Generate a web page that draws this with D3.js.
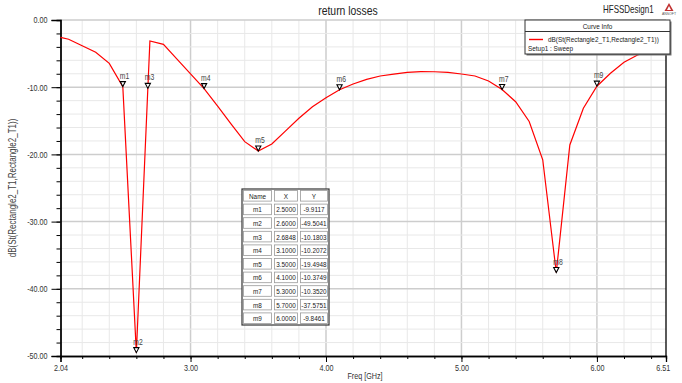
<!DOCTYPE html>
<html>
<head>
<meta charset="utf-8">
<script src="https://cdn.jsdelivr.net/npm/d3@7"></script>
<style>
    body { margin: 0; background: #fff; }
    text { font-family: "Liberation Sans", Arial, sans-serif; }
</style>
</head>
<body>
<div id="chart"></div>
<script>
// Data
//-------------------------------------------------------
var freqs = [2.04, 2.1, 2.2, 2.3, 2.4, 2.5, 2.6, 2.7, 2.8, 2.9, 3.0, 3.1, 3.2, 3.3, 3.4, 3.5,
    3.6, 3.7, 3.8, 3.9, 4.0, 4.1, 4.2, 4.3, 4.4, 4.5, 4.6, 4.7, 4.8, 4.9, 5.0, 5.1, 5.2,
    5.3, 5.4, 5.5, 5.6, 5.7, 5.8, 5.9, 6.0, 6.1, 6.2, 6.3, 6.4, 6.5, 6.51];
var s11 = [-2.58, -2.87, -3.84, -4.81, -6.45, -9.91, -49.50, -3.13, -3.62, -5.82, -8.01, -10.21, -12.8, -15.5, -18.1, -19.49,
    -18.45, -16.54, -14.63, -12.9, -11.56, -10.37, -9.52, -8.83, -8.33, -8.05, -7.78, -7.69, -7.70, -7.78, -8.04, -8.33, -9.08,
    -10.35, -12.16, -15.1, -20.8, -37.58, -18.6, -13.14, -9.85, -7.93, -6.3, -5.2, -4.6, -4.1, -4.05];

var markerNames = ["m1", "m2", "m3", "m4", "m5", "m6", "m7", "m8", "m9"];
var markerX = ["2.5000", "2.6000", "2.6848", "3.1000", "3.5000", "4.1000", "5.3000", "5.7000", "6.0000"];
var markerY = ["-9.9117", "-49.5041", "-10.1803", "-10.2072", "-19.4948", "-10.3749", "-10.3520", "-37.5751", "-9.8461"];

var xTickLabels = ["2.04", "3.00", "4.00", "5.00", "6.00", "6.51"];
var yTickLabels = ["0.00", "-10.00", "-20.00", "-30.00", "-40.00", "-50.00"];

// Set up SVG and Chart group
//-------------------------------------------------------
var svgWidth = 682;
var svgHeight = 383;

var margin = { top: 20, right: 16, bottom: 27, left: 60.5 };
var chartWidth = svgWidth - margin.left - margin.right;
var chartHeight = svgHeight - margin.top - margin.bottom;

var svg = d3.select("#chart")
    .append("svg")
    .attr("width", svgWidth)
    .attr("height", svgHeight);

var chartGroup = svg.append("g")
    .attr("transform", `translate(${margin.left}, ${margin.top})`);

var xScale = d3.scaleLinear().domain([2.04, 6.51]).range([0, chartWidth]);
var yScale = d3.scaleLinear().domain([-50, 0]).range([chartHeight, 0]);

// squeeze text horizontally (the original uses a narrow font)
var squeeze = 0.8;
function narrow(sel) {
    sel.each(function() {
        var t = d3.select(this);
        var x = +(t.attr("x") || 0);
        t.attr("x", x / squeeze).attr("transform", (t.attr("transform") || "") + ` scale(${squeeze},1)`);
    });
}

// Grid
//-------------------------------------------------------
var xMinor = d3.range(2.2, 6.5, 0.2);
var yMinor = d3.range(-48, 0, 2);

chartGroup.selectAll(".vgrid").data(xMinor).enter()
    .append("line")
    .attr("x1", d => xScale(d)).attr("x2", d => xScale(d))
    .attr("y1", 0).attr("y2", chartHeight)
    .attr("stroke", d => Math.abs(d - Math.round(d)) < 0.01 ? "#cdcdcd" : "#e8e8e8")
    .attr("stroke-width", d => Math.abs(d - Math.round(d)) < 0.01 ? 1.5 : 1);

chartGroup.selectAll(".hgrid").data(yMinor.concat([0])).enter()
    .append("line")
    .attr("x1", 0).attr("x2", chartWidth)
    .attr("y1", d => yScale(d)).attr("y2", d => yScale(d))
    .attr("stroke", d => d % 10 === 0 ? "#cdcdcd" : "#e8e8e8")
    .attr("stroke-width", d => d % 10 === 0 ? 1.5 : 1);

// Axes
//-------------------------------------------------------
var xMajor = xTickLabels.map(d => +d);
var bottomAxis = d3.axisBottom(xScale).tickValues(xMajor).tickFormat((d, i) => xTickLabels[i]).tickSize(6).tickPadding(3);
var bottomMinor = d3.axisBottom(xScale).tickValues(xMinor).tickFormat("").tickSize(3);
var yMajor = yTickLabels.map(d => +d);
var leftAxis = d3.axisLeft(yScale).tickValues(yMajor).tickFormat((d, i) => yTickLabels[i]).tickSize(9).tickPadding(4);
var leftMinor = d3.axisLeft(yScale).tickValues(yMinor).tickFormat("").tickSize(4);

function styleAxis(g) {
    g.select(".domain").attr("stroke", "#000").attr("stroke-width", 1.3);
    g.selectAll(".tick line").attr("stroke", "#000");
    g.selectAll(".tick text").attr("fill", "#333").attr("font-size", "9px")
        .attr("font-family", "'Liberation Sans', Arial, sans-serif")
        .call(narrow);
}

chartGroup.append("g").attr("transform", `translate(0, ${chartHeight})`).call(bottomMinor).call(styleAxis);
var xAxis = chartGroup.append("g").attr("transform", `translate(0, ${chartHeight})`).call(bottomAxis).call(styleAxis);
chartGroup.append("g").call(leftMinor).call(styleAxis);
chartGroup.append("g").call(leftAxis).call(styleAxis);

// last x label sits just left of the corner
xAxis.selectAll(".tick text").filter((d, i) => i === xTickLabels.length - 1).attr("dx", "-4");

// right border
chartGroup.append("line")
    .attr("x1", chartWidth).attr("x2", chartWidth)
    .attr("y1", 0).attr("y2", chartHeight)
    .attr("stroke", "#000").attr("stroke-width", 1.3);

// Curve
//-------------------------------------------------------
var curveData = freqs.map((f, i) => ({ f: f, v: s11[i] }));
var line = d3.line().x(d => xScale(d.f)).y(d => yScale(d.v));

chartGroup.append("path")
    .datum(curveData)
    .attr("d", line)
    .attr("fill", "none")
    .attr("stroke", "#ff0000")
    .attr("stroke-width", 1.2);

// Markers
//-------------------------------------------------------
var markers = markerNames.map((n, i) => ({ name: n, x: +markerX[i], y: +markerY[i] }));

var markerGroup = chartGroup.selectAll(".marker").data(markers).enter()
    .append("g")
    .attr("transform", d => `translate(${xScale(d.x)}, ${yScale(d.y)})`);

markerGroup.append("path")
    .attr("d", "M-2.6,-5 L2.6,-5 L0,0 Z")
    .attr("fill", "#fff")
    .attr("stroke", "#000")
    .attr("stroke-width", 1.1);

markerGroup.append("text")
    .attr("x", -3).attr("y", -8)
    .attr("font-size", "8.5px")
    .attr("fill", "#444")
    .text(d => d.name)
    .call(narrow);

// Title + header
//-------------------------------------------------------
svg.append("text").attr("x", 348).attr("y", 15).attr("text-anchor", "middle")
    .attr("font-size", "13px").attr("fill", "#222").text("return losses").call(narrow);

svg.append("text").attr("x", 603).attr("y", 13)
    .attr("font-size", "10px").attr("fill", "#222").text("HFSSDesign1").call(narrow);

// small logo
var logo = svg.append("g").attr("transform", "translate(669, 3)");
logo.append("path").attr("d", "M0,0 L4.5,8 L-4.5,8 Z").attr("fill", "#c03030");
logo.append("path").attr("d", "M0,3 L2,7 L-2,7 Z").attr("fill", "#fff");
logo.append("text").attr("y", 12).attr("text-anchor", "middle").attr("font-size", "3.5px")
    .attr("fill", "#555").text("ANSOFT");

// Axis titles
svg.append("text").attr("x", 365).attr("y", 379).attr("text-anchor", "middle")
    .attr("font-size", "9px").attr("fill", "#333").text("Freq [GHz]").call(narrow);

svg.append("text")
    .attr("transform", "translate(16, 188) rotate(-90)")
    .attr("text-anchor", "middle")
    .attr("font-size", "10px").attr("fill", "#444")
    .text("dB(St(Rectangle2_T1,Rectangle2_T1))")
    .call(narrow);

// Legend (Curve Info)
//-------------------------------------------------------
var legend = svg.append("g").attr("transform", "translate(525, 20)");
legend.append("rect").attr("x", 1.5).attr("y", 1.5).attr("width", 145).attr("height", 34).attr("fill", "#777");
legend.append("rect").attr("width", 145).attr("height", 34).attr("fill", "#fff").attr("stroke", "#333").attr("stroke-width", 1);
legend.append("line").attr("x1", 0).attr("x2", 145).attr("y1", 11.5).attr("y2", 11.5).attr("stroke", "#333");
legend.append("text").attr("x", 72.5).attr("y", 9).attr("text-anchor", "middle")
    .attr("font-size", "8px").attr("fill", "#222").text("Curve Info").call(narrow);
legend.append("line").attr("x1", 4).attr("x2", 18).attr("y1", 19.5).attr("y2", 19.5)
    .attr("stroke", "#ff0000").attr("stroke-width", 1.4);
legend.append("text").attr("x", 23).attr("y", 22.5)
    .attr("font-size", "8px").attr("fill", "#222").text("dB(St(Rectangle2_T1,Rectangle2_T1))").call(narrow);
legend.append("text").attr("x", 3).attr("y", 31.5)
    .attr("font-size", "8px").attr("fill", "#222").text("Setup1 : Sweep").call(narrow);

// Marker table
//-------------------------------------------------------
var tableLeft = 242, tableTop = 189;
var colWidths = [31, 26, 30];
var rowHeight = 13.6;
var tableRows = [["Name", "X", "Y"]].concat(markerNames.map((n, i) => [n, markerX[i], markerY[i]]));

var table = svg.append("g").attr("transform", `translate(${tableLeft}, ${tableTop})`);
var colStarts = [0, colWidths[0], colWidths[0] + colWidths[1]];
var tableWidth = d3.sum(colWidths);

table.append("rect").attr("width", tableWidth).attr("height", rowHeight * tableRows.length)
    .attr("fill", "#fff").attr("stroke", "#333").attr("stroke-width", 1.2);

tableRows.forEach(function(row, r) {
    row.forEach(function(cell, c) {
        table.append("rect")
            .attr("x", colStarts[c] + 1.5).attr("y", r * rowHeight + 1.5)
            .attr("width", colWidths[c] - 3).attr("height", rowHeight - 3)
            .attr("fill", "none").attr("stroke", "#9a9a9a").attr("stroke-width", 0.8);
        table.append("text")
            .attr("x", colStarts[c] + colWidths[c] / 2)
            .attr("y", r * rowHeight + rowHeight / 2 + 3)
            .attr("text-anchor", "middle")
            .attr("font-size", "8px").attr("fill", "#222")
            .text(cell)
            .call(narrow);
    });
});
</script>
</body>
</html>
